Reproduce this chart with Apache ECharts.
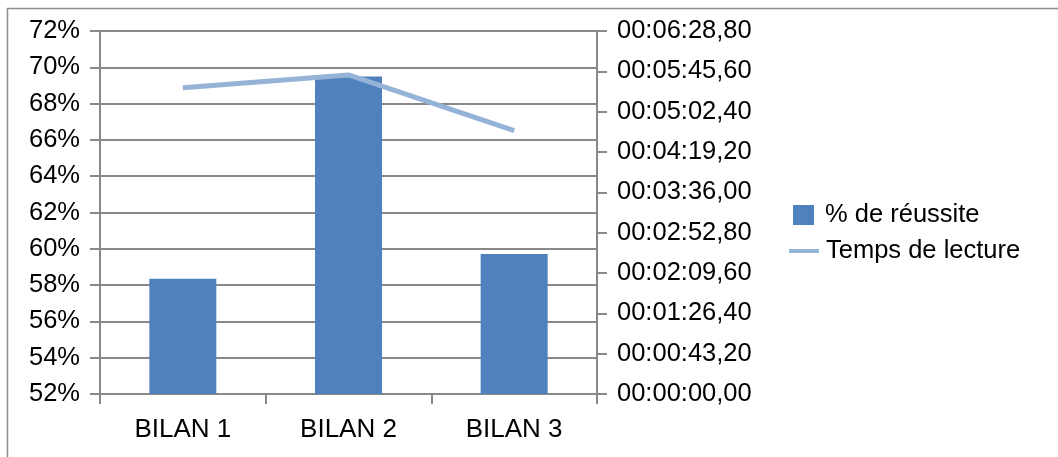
<!DOCTYPE html>
<html>
<head>
<meta charset="utf-8">
<script src="https://cdn.jsdelivr.net/npm/echarts@6/dist/echarts.min.js"></script>
<style>
html,body{margin:0;padding:0;background:#fff;}
#c{width:1058px;height:457px;}
</style>
</head>
<body>
<div id="c"></div>
<script>
const categories = ['BILAN 1', 'BILAN 2', 'BILAN 3'];
const reussite = [58.35, 69.5, 59.72];          // % de réussite
const tempsLecture = [328.1, 341.7, 282.0];      // seconds
const seriesNames = ['% de réussite', 'Temps de lecture'];

function fmtTime(v) {
  const cs = Math.round(v * 100);
  const h = Math.floor(cs / 360000);
  const m = Math.floor((cs % 360000) / 6000);
  const s = Math.floor((cs % 6000) / 100);
  const c = cs % 100;
  const p = n => String(n).padStart(2, '0');
  return p(h) + ':' + p(m) + ':' + p(s) + ',' + p(c);
}

const gray = '#898989';
const font = 'Liberation Sans';
const fs = 25.5;
const chart = echarts.init(document.getElementById('c'));
chart.setOption({
  animation: false,
  backgroundColor: '#fff',
  textStyle: { fontFamily: font },
  graphic: [{
    type: 'polyline',
    shape: { points: [[7.5, 460], [7.5, 8.5], [1060, 8.5]] },
    style: { stroke: '#8e8e8e', lineWidth: 1.5, fill: null }
  }],
  grid: { left: 100, right: 461, top: 31, bottom: 63 },
  legend: [{
    data: [seriesNames[0]],
    left: 793, top: 202, padding: 0,
    itemWidth: 21, itemHeight: 20, icon: 'rect', itemGap: 0,
    textStyle: { fontSize: fs, color: '#000', fontFamily: font, padding: [0, 0, 0, 6] }
  }, {
    data: [seriesNames[1]],
    left: 789, top: 238, padding: 0,
    itemWidth: 30, itemHeight: 4, icon: 'rect', itemGap: 0,
    textStyle: { fontSize: fs, color: '#000', fontFamily: font, padding: [0, 0, 0, 2] }
  }],
  xAxis: {
    type: 'category',
    data: categories,
    axisLine: { lineStyle: { color: gray, width: 2 } },
    axisTick: { show: true, length: 10, lineStyle: { color: gray, width: 2 } },
    axisLabel: { fontSize: 26, color: '#000', margin: 23, fontFamily: font }
  },
  yAxis: [{
    type: 'value',
    min: 52, max: 72, interval: 2,
    axisLine: { show: true, lineStyle: { color: gray, width: 2 } },
    axisTick: { show: true, length: 10, lineStyle: { color: gray, width: 2 } },
    splitLine: { show: true, lineStyle: { color: gray, width: 2 } },
    axisLabel: { fontSize: fs, color: '#000', margin: 20, formatter: '{value}%', fontFamily: font }
  }, {
    type: 'value',
    position: 'right',
    min: 0, max: 388.8, interval: 43.2,
    axisLine: { show: true, lineStyle: { color: gray, width: 2 } },
    axisTick: { show: true, length: 10, lineStyle: { color: gray, width: 2 } },
    splitLine: { show: false },
    axisLabel: { fontSize: fs, color: '#000', margin: 20, formatter: v => fmtTime(v), fontFamily: font }
  }],
  series: [{
    name: seriesNames[0],
    type: 'bar',
    data: reussite,
    barWidth: 67,
    itemStyle: { color: '#4f81bd' },
    yAxisIndex: 0
  }, {
    name: seriesNames[1],
    type: 'line',
    data: tempsLecture,
    yAxisIndex: 1,
    showSymbol: false,
    symbol: 'none',
    lineStyle: { color: '#95b3d7', width: 5 },
    itemStyle: { color: '#95b3d7' }
  }]
});
</script>
</body>
</html>
